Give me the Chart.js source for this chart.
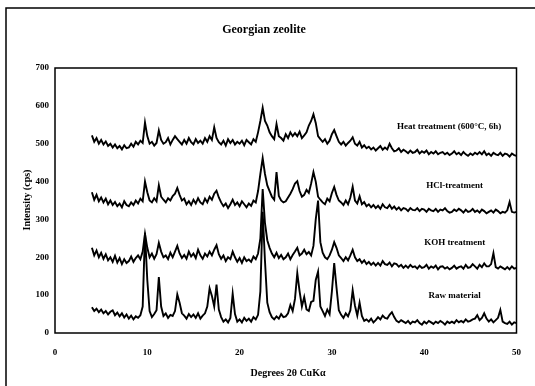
<!DOCTYPE html>
<html lang="en">
  <head>
    <meta charset="UTF-8" />
    <title>Georgian zeolite</title>
    <style>
      body { margin: 0; background: #fff; }
    </style>
  </head>
  <body>
    <canvas id="chart" width="535" height="386"></canvas>
    <script src="https://cdn.jsdelivr.net/npm/chart.js"></script>
    <script>
      // intensities (cps), scan 4..50 deg 2theta, 0.25 deg step
      const rawMaterial = [
        68, 58, 64, 55,  62, 52, 58, 49,  56, 60, 47, 54,  44, 52, 41, 49,
        38, 46, 36, 44,  40, 47, 70, 265,  140, 58, 42, 50,  60, 148, 70, 45,
        52, 40, 48, 45,  58, 102, 80, 52,  46, 38, 50, 42,  49, 40, 52, 38,
        46, 52, 70, 118,  98, 70, 128, 62,  42, 30, 36, 28,  40, 104, 50, 30,
        36, 28, 40, 32,  38, 30, 42, 36,  48, 110, 320, 190,  80, 55, 42, 36,
        44, 38, 50, 42,  44, 52, 74, 58,  90, 158, 110, 70,  95, 62, 58, 82,
        85, 140, 162, 70,  58, 45, 62, 50,  110, 185, 120, 60,  48, 40, 52, 44,
        60, 113, 72, 46,  80, 45, 32, 36,  30, 38, 28, 34,  42, 36, 46, 40,
        38, 48, 55, 42,  32, 28, 34, 30,  26, 32, 24, 30,  28, 34, 26, 22,
        30, 25, 32, 28,  24, 30, 26, 32,  28, 22, 30, 26,  30, 26, 34, 28,
        32, 28, 36, 30,  32, 36, 38, 47,  34, 40, 52, 38,  30, 36, 28, 34,
        40, 61, 30, 26,  24, 30, 22, 28,  26
      ];
      const kohTreatment = [
        225, 205, 218, 200,  212, 196, 208, 192,  200, 188, 204, 186,  198, 182, 195, 185,
        190, 202, 188, 198,  205, 195, 215, 262,  225, 200, 210, 196,  208, 238, 215, 200,
        205, 195, 212, 200,  215, 230, 210, 198,  206, 196, 215, 202,  210, 198, 220, 205,
        196, 210, 202, 215,  205, 220, 232, 208,  196, 205, 190, 200,  195, 215, 200, 188,
        198, 185, 200, 190,  194, 188, 202, 195,  210, 250, 380, 290,  245, 225, 210, 200,
        212, 198, 206, 195,  200, 210, 195, 206,  215, 225, 205, 210,  220, 208, 214, 205,
        230, 300, 350, 240,  212, 200, 195, 205,  220, 240, 225, 205,  198, 190, 200, 192,
        205, 220, 200, 190,  195, 185, 192, 182,  188, 180, 186, 178,  185, 178, 190, 182,
        180, 186, 176, 184,  182, 175, 180, 172,  178, 172, 180, 174,  176, 170, 178, 172,
        174, 180, 170, 176,  172, 178, 168, 175,  176, 170, 174, 168,  172, 178, 170, 174,
        176, 170, 180, 172,  174, 182, 176, 170,  180, 174, 184, 176,  176, 182, 211, 174,
        170, 176, 172, 168,  174, 168, 176, 170,  172
      ];
      const hclTreatment = [
        372, 352, 365, 348,  358, 345, 355, 340,  350, 338, 346, 335,  342, 332, 348, 338,
        335, 345, 338, 350,  342, 355, 348, 400,  372, 350, 345, 356,  348, 390, 360, 352,
        345, 356, 350, 362,  368, 383, 365, 350,  355, 340, 348, 338,  352, 342, 356, 345,
        340, 355, 345, 360,  352, 368, 376, 358,  345, 335, 342, 330,  340, 352, 338, 345,
        335, 348, 340, 332,  342, 336, 350, 345,  375, 420, 462, 420,  390, 375, 360, 352,
        425, 362, 350, 345,  348, 358, 368, 380,  395, 401, 375, 360,  365, 378, 370, 395,
        425, 400, 360, 352,  345, 340, 355, 348,  370, 386, 365, 350,  345, 338, 350, 340,
        358, 386, 350, 342,  361, 340, 346, 335,  340, 332, 338, 330,  336, 328, 340, 332,
        330, 338, 328, 334,  326, 332, 324, 330,  328, 322, 330, 325,  324, 330, 322, 328,
        326, 320, 328, 324,  322, 328, 320, 326,  324, 330, 322, 318,  320, 326, 322, 328,
        324, 318, 326, 320,  322, 328, 320, 324,  318, 326, 322, 316,  320, 324, 318, 326,
        322, 316, 320, 318,  324, 346, 320, 318,  320
      ];
      const heatTreatment = [
        522, 505, 515, 500,  510, 498, 506, 494,  500, 490, 498, 488,  494, 485, 496, 488,
        490, 500, 492, 505,  498, 508, 502, 556,  520, 500, 505, 495,  502, 535, 510, 500,
        504, 515, 498, 510,  520, 512, 505, 498,  510, 500, 515, 504,  498, 512, 502, 508,
        500, 515, 505, 520,  510, 543, 515, 504,  498, 508, 495, 512,  502, 510, 498, 505,
        500, 508, 496, 510,  504, 498, 512, 505,  530, 560, 595, 560,  548, 530, 520, 512,
        552, 520, 515, 508,  525, 515, 530, 520,  528, 520, 532, 515,  522, 530, 548, 560,
        578, 555, 520, 512,  505, 512, 500, 508,  525, 536, 520, 505,  498, 505, 495, 502,
        508, 517, 500, 495,  505, 490, 496, 488,  492, 485, 490, 482,  488, 494, 484, 490,
        485, 500, 488, 480,  482, 488, 478, 484,  480, 475, 482, 476,  478, 484, 474, 480,
        476, 482, 472, 478,  474, 480, 472, 476,  478, 472, 476, 470,  474, 480, 472, 476,
        470, 478, 472, 468,  474, 470, 476, 472,  478, 472, 480, 470,  474, 468, 476, 472,
        470, 476, 468, 474,  472, 466, 474, 470,  468
      ];
      const scanStart = 4;
      const scanStep = 0.25;
      const twoTheta = rawMaterial.map((v, i) => scanStart + i * scanStep);

      const seriesNames = ['Raw material', 'KOH treatment', 'HCl-treatment', 'Heat treatment (600°C, 6h)'];
      const seriesValues = [rawMaterial, kohTreatment, hclTreatment, heatTreatment];
      // where each series name is written (deg 2theta, cps)
      const labelAt = [[43.3, 98], [43.3, 238], [43.3, 388], [42.7, 546]];

      const serif = "'Liberation Serif', 'DejaVu Serif', serif";

      const frame = {
        id: 'frame',
        beforeDraw(chart) {
          const c = chart.ctx;
          c.save();
          c.strokeStyle = '#000';
          c.lineWidth = 1.5;
          c.beginPath();
          c.moveTo(6, 390);
          c.lineTo(6, 8);
          c.lineTo(540, 8);
          c.stroke();
          c.restore();
        },
        afterDraw(chart) {
          const c = chart.ctx;
          const a = chart.chartArea;
          const xs = chart.scales.x;
          const ys = chart.scales.y;
          c.save();
          c.strokeStyle = '#000';
          c.lineWidth = 1.5;
          c.strokeRect(a.left, a.top, a.right - a.left, a.bottom - a.top);
          c.fillStyle = '#000';
          c.textAlign = 'center';
          c.textBaseline = 'middle';
          c.font = 'bold 12px ' + serif;
          c.fillText('Georgian zeolite', 264, 30);
          c.font = 'bold 9px ' + serif;
          seriesNames.forEach((name, i) => {
            c.fillText(name, xs.getPixelForValue(labelAt[i][0]), ys.getPixelForValue(labelAt[i][1]));
          });
          c.font = 'bold 10px ' + serif;
          c.fillText('Degrees 2θ CuKα', 288, 373);
          c.translate(27, 200);
          c.rotate(-Math.PI / 2);
          c.fillText('Intensity (cps)', 0, 0);
          c.restore();
        }
      };

      new Chart(document.getElementById('chart'), {
        type: 'line',
        data: {
          datasets: seriesValues.map((vals, i) => ({
            label: seriesNames[i],
            data: vals.map((v, j) => ({ x: twoTheta[j], y: v })),
            borderColor: '#000',
            borderWidth: 1.9,
            pointRadius: 0,
            tension: 0,
            fill: false
          }))
        },
        options: {
          responsive: false,
          animation: false,
          layout: { padding: { top: 68, right: 15, left: 0, bottom: 0 } },
          plugins: { legend: { display: false }, tooltip: { enabled: false } },
          scales: {
            x: {
              type: 'linear',
              min: 0,
              max: 50,
              grid: { display: false, drawTicks: false },
              border: { display: false },
              ticks: { stepSize: 10, color: '#000', padding: 14, maxRotation: 0, font: { family: serif, size: 9, weight: 'bold' } },
              afterFit(scale) { scale.height = 53; }
            },
            y: {
              min: 0,
              max: 700,
              grid: { display: false, drawTicks: false },
              border: { display: false },
              ticks: { stepSize: 100, color: '#000', padding: 6, font: { family: serif, size: 9, weight: 'bold' } },
              afterFit(scale) { scale.width = 55; }
            }
          }
        },
        plugins: [frame]
      });
    </script>
  </body>
</html>
